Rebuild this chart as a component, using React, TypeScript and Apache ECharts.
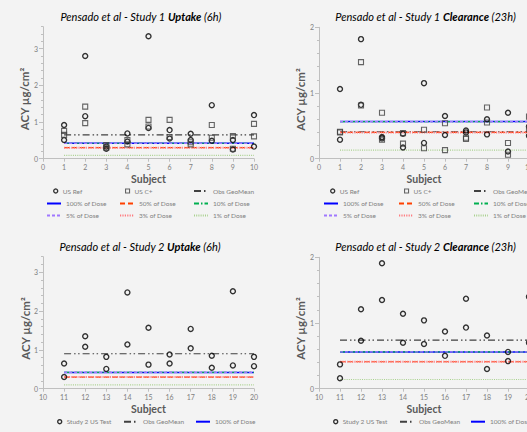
import React, { useEffect, useRef } from "react";
import * as echarts from "echarts";

const FONT = 'Lato, "Open Sans", sans-serif';

// ---- data ----
const study1Subjects = [1, 2, 3, 4, 5, 6, 7, 8, 9, 10];
const study2Subjects = [11, 12, 13, 14, 15, 16, 17, 18, 19, 20];

// two replicate values per subject
const s1UptakeRef = [[0.92, 0.51], [2.80, 1.16], [0.33, 0.27], [0.69, 0.47], [3.34, 0.84], [0.78, 0.55], [0.68, 0.51], [1.46, 0.49], [0.51, 0.25], [1.19, 0.33]];
const s1UptakeCplus = [[0.76, 0.65], [1.42, 0.97], [0.37, 0.30], [0.51, 0.39], [1.06, 0.88], [1.06, 0.59], [0.45, 0.39], [0.92, 0.57], [0.62, 0.27], [0.95, 0.61]];
const s1ClearRef = [[1.06, 0.29], [1.82, 0.82], [0.33, 0.31], [0.38, 0.17], [1.15, 0.24], [0.65, 0.36], [0.43, 0.40], [0.60, 0.37], [0.70, 0.11], [0.49, 0.35]];
const s1ClearCplus = [[0.41, 0.40], [1.47, 0.81], [0.70, 0.29], [0.39, 0.23], [0.44, 0.16], [0.54, 0.13], [0.32, 0.30], [0.78, 0.55], [0.24, 0.06], [0.64, 0.45]];
const s2Uptake = [[0.65, 0.30], [1.35, 1.08], [0.82, 0.51], [2.48, 1.14], [1.57, 0.62], [0.88, 0.65], [1.54, 1.04], [0.85, 0.54], [2.51, 0.60], [0.82, 0.58]];
const s2Clear = [[0.37, 0.16], [1.21, 0.73], [1.91, 1.35], [1.14, 0.70], [1.04, 0.68], [0.87, 0.50], [1.37, 0.93], [0.81, 0.30], [0.56, 0.42], [1.40, 0.70]];

const lineNames = ["Obs GeoMean", "100% of Dose", "50% of Dose", "10% of Dose", "5% of Dose", "3% of Dose", "1% of Dose"];
const s1UptakeLines = [0.65, 0.42, 0.30, 0.42, 0.42, 0.30, 0.09];
const s1ClearLines = [0.41, 0.565, 0.40, 0.565, 0.565, 0.40, 0.13];
const s2UptakeLines = [0.90, 0.42, 0.30, 0.42, 0.42, 0.30, 0.10];
const s2ClearLines = [0.74, 0.56, 0.41, 0.56, 0.56, 0.41, 0.14];

const yMax = [3.6, 2, 3.4, 2];
const xRange = [[0, 10], [0, 10], [10, 20], [10, 20]];

// ---- styles ----
const lineStyles: any[] = [
  { color: "#404040", width: 1.2, type: [7, 3, 1.5, 2.5, 1.5, 3] },
  { color: "#0000ff", width: 1.5, type: "solid" },
  { color: "#ff4000", width: 1.2, type: [5, 3] },
  { color: "#00b050", width: 1.1, type: [5, 2, 1.5, 2] },
  { color: "#a078ff", width: 1.3, type: [3, 2] },
  { color: "#ff7c80", width: 2, type: [1.2, 1.2] },
  { color: "#a9d18e", width: 1.2, type: [1, 1.2] },
];

const circleStyle = { color: "rgba(0,0,0,0)", borderColor: "#000000", borderWidth: 1.4 };
const squareStyle = { color: "rgba(0,0,0,0)", borderColor: "#404040", borderWidth: 1.1 };

const grids = [
  { left: 43, top: 26.7, width: 211, height: 132 },
  { left: 319, top: 27.3, width: 210, height: 131.4 },
  { left: 43, top: 256.7, width: 211, height: 132 },
  { left: 319, top: 257.3, width: 210, height: 131.4 },
];

const AXIS_COLOR = "#bfbfbf";
const LABEL_COLOR = "#808080";
const TEXT_COLOR = "#595959";

function pairsToPoints(subjects: number[], pairs: number[][]) {
  const pts: number[][] = [];
  subjects.forEach((s, i) => {
    pairs[i].forEach((v) => pts.push([s, v]));
  });
  return pts;
}

function buildOption() {
  const series: any[] = [];
  const panels = [
    { subjects: study1Subjects, lines: s1UptakeLines, scatter: [{ name: "US Ref", data: s1UptakeRef, sym: "circle" }, { name: "US C+", data: s1UptakeCplus, sym: "rect" }] },
    { subjects: study1Subjects, lines: s1ClearLines, scatter: [{ name: "US Ref", data: s1ClearRef, sym: "circle" }, { name: "US C+", data: s1ClearCplus, sym: "rect" }] },
    { subjects: study2Subjects, lines: s2UptakeLines, scatter: [{ name: "Study 2 US Test", data: s2Uptake, sym: "circle" }] },
    { subjects: study2Subjects, lines: s2ClearLines, scatter: [{ name: "Study 2 US Test", data: s2Clear, sym: "circle" }] },
  ];
  panels.forEach((p, gi) => {
    const x0 = p.subjects[0];
    const x1 = p.subjects[p.subjects.length - 1];
    p.lines.forEach((v, li) => {
      series.push({
        type: "line",
        name: lineNames[li],
        xAxisIndex: gi,
        yAxisIndex: gi,
        data: [[x0, v], [x1, v]],
        symbol: "none",
        showSymbol: false,
        lineStyle: lineStyles[li],
        itemStyle: { color: lineStyles[li].color },
        silent: true,
        z: 2,
      });
    });
    p.scatter.forEach((s) => {
      series.push({
        type: "scatter",
        name: s.name,
        xAxisIndex: gi,
        yAxisIndex: gi,
        data: pairsToPoints(p.subjects, s.data),
        symbol: s.sym,
        symbolSize: 5,
        itemStyle: s.sym === "circle" ? circleStyle : squareStyle,
        silent: true,
        z: 3,
      });
    });
  });

  const xAxis = grids.map((_, i) => ({
    type: "value",
    gridIndex: i,
    min: xRange[i][0],
    max: xRange[i][1],
    interval: 1,
    axisLine: { show: true, onZero: false, lineStyle: { color: AXIS_COLOR, width: 1 } },
    axisTick: { show: true, length: 3, lineStyle: { color: AXIS_COLOR } },
    axisLabel: { fontSize: 7, color: LABEL_COLOR, margin: 5, fontFamily: FONT },
    splitLine: { show: false },
    name: "Subject",
    nameLocation: "middle",
    nameGap: 15,
    nameTextStyle: { fontSize: 10.5, fontWeight: "bold", color: TEXT_COLOR, fontFamily: FONT },
  }));

  const yAxis: any[] = [];
  grids.forEach((_, i) => {
    yAxis.push({
      type: "value",
      gridIndex: i,
      min: 0,
      max: yMax[i],
      interval: 1,
      position: "left",
      axisLine: { show: true, onZero: false, lineStyle: { color: AXIS_COLOR, width: 1 } },
      axisTick: { show: true, length: 4, lineStyle: { color: AXIS_COLOR } },
      axisLabel: { fontSize: 7, color: LABEL_COLOR, margin: 5, fontFamily: FONT, showMaxLabel: Number.isInteger(yMax[i]) },
      splitLine: { show: false },
    });
  });
  grids.forEach((_, i) => {
    yAxis.push({
      type: "value",
      gridIndex: i,
      min: 0,
      max: yMax[i],
      interval: 0.2,
      position: "left",
      axisLine: { show: false, onZero: false },
      axisTick: { show: true, length: 2, lineStyle: { color: AXIS_COLOR } },
      axisLabel: { show: false },
      splitLine: { show: false },
    });
  });

  const legendDefs: [string, number, number, string][] = [
    // panel 1
    ["US Ref", 53, 192, "c"], ["US C+", 125, 192, "s"], ["Obs GeoMean", 193, 192, "l"],
    ["100% of Dose", 46, 204.5, "l"], ["50% of Dose", 119, 204.5, "l"], ["10% of Dose", 193, 204.5, "l"],
    ["5% of Dose", 46, 216.5, "l"], ["3% of Dose", 119, 216.5, "l"], ["1% of Dose", 193, 216.5, "l"],
    // panel 2
    ["US Ref", 330, 192, "c"], ["US C+", 404, 192, "s"], ["Obs GeoMean", 473, 192, "l"],
    ["100% of Dose", 323, 204.5, "l"], ["50% of Dose", 398, 204.5, "l"], ["10% of Dose", 473, 204.5, "l"],
    ["5% of Dose", 323, 216.5, "l"], ["3% of Dose", 398, 216.5, "l"], ["1% of Dose", 473, 216.5, "l"],
    // panel 3
    ["Study 2 US Test", 57, 422.7, "c"], ["Obs GeoMean", 123, 422.7, "l"], ["100% of Dose", 195, 422.7, "l"],
    // panel 4
    ["Study 2 US Test", 333, 422.7, "c"], ["Obs GeoMean", 399, 422.7, "l"], ["100% of Dose", 470, 422.7, "l"],
  ];
  const legend = legendDefs.map(([name, left, y, kind]) => {
    const isMarker = kind !== "l";
    const markerStyle = kind === "c" ? circleStyle : squareStyle;
    return {
      show: true,
      left,
      top: y - 4.5,
      padding: 0,
      itemGap: 0,
      orient: "horizontal",
      data: [
        isMarker
          ? { name, icon: kind === "c" ? "circle" : "rect", itemStyle: { ...markerStyle } }
          : { name },
      ],
      itemWidth: isMarker ? 4 : 14,
      itemHeight: isMarker ? 4 : 8,
      selectedMode: false,
      itemStyle: isMarker ? { ...markerStyle } : { color: "rgba(0,0,0,0)", borderWidth: 0, opacity: 0 },
      textStyle: { fontSize: 6.5, color: LABEL_COLOR, fontFamily: FONT },
    };
  });

  const titleRich = {
    g: { fontSize: 11, fontStyle: "italic", color: TEXT_COLOR, fontFamily: FONT },
    u: { fontSize: 11, fontStyle: "italic", fontWeight: "bold", color: "#0000ff", fontFamily: FONT },
    c: { fontSize: 11, fontStyle: "italic", fontWeight: "bold", color: "#e00000", fontFamily: FONT },
  };
  const titles: [string, number, number][] = [
    ["{g|Pensado et al - Study 1 }{u|Uptake}{g| (6h)}", 140.8, 16],
    ["{g|Pensado et al - Study 1 }{c|Clearance}{g| (23h)}", 425.5, 16],
    ["{g|Pensado et al - Study 2 }{u|Uptake}{g| (6h)}", 140, 246.7],
    ["{g|Pensado et al - Study 2 }{c|Clearance}{g| (23h)}", 425.5, 246.7],
  ];
  const yNames: [number, number][] = [[24, 99], [300, 99.5], [25, 328.5], [300, 328.5]];

  const graphic: any[] = [];
  titles.forEach(([t, x, y]) => {
    graphic.push({
      type: "text",
      x,
      y,
      silent: true,
      style: { text: t, rich: titleRich, align: "center", verticalAlign: "middle" },
    });
  });
  yNames.forEach(([x, y]) => {
    graphic.push({
      type: "text",
      x,
      y,
      rotation: Math.PI / 2,
      silent: true,
      style: {
        text: "ACY µg/cm²",
        fontSize: 11.5,
        fontWeight: "bold",
        fill: TEXT_COLOR,
        fontFamily: FONT,
        align: "center",
        verticalAlign: "middle",
      },
    });
  });

  return {
    animation: false,
    backgroundColor: "#f3f3f3",
    grid: grids.map((g) => ({ ...g, containLabel: false, outerBoundsMode: "none" })),
    xAxis,
    yAxis,
    legend,
    graphic,
    series,
  };
}

export default function App() {
  const ref = useRef<HTMLDivElement>(null);
  useEffect(() => {
    document.body.style.margin = "0";
    document.body.style.background = "#f3f3f3";
    const chart = echarts.init(ref.current as HTMLDivElement, null, { renderer: "svg" });
    chart.setOption(buildOption() as any);
    return () => chart.dispose();
  }, []);
  return (
    <div
      ref={ref}
      style={{ position: "fixed", left: 0, top: 0, width: 527, height: 432, background: "#f3f3f3" }}
    />
  );
}
